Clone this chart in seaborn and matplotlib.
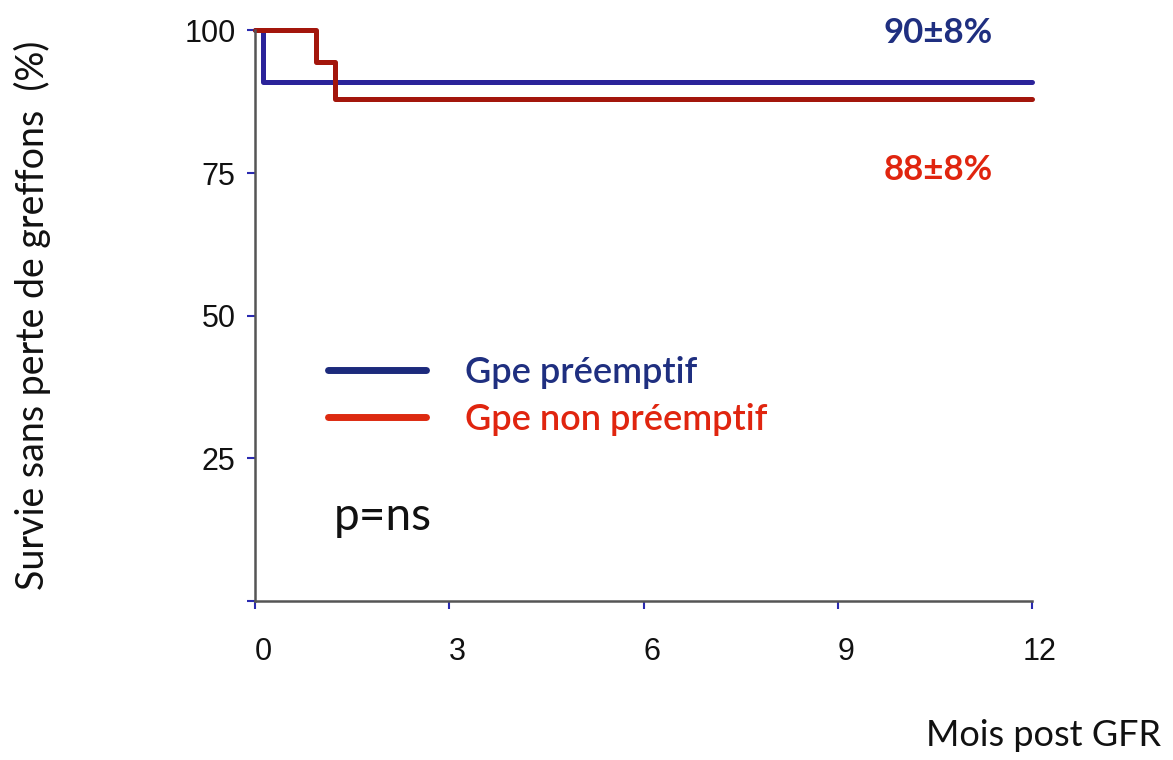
import numpy as np
import pandas as pd
import seaborn as sns
import matplotlib.pyplot as plt
from matplotlib.lines import Line2D
from matplotlib.transforms import ScaledTranslation

# survival steps (months, %)
groups = ["Gpe préemptif", "Gpe non préemptif"]
time_pre = [0, 0.12, 12]
surv_pre = [100, 91, 91]
time_non = [0, 0.94, 1.24, 12]
surv_non = [100, 94.5, 88, 88]
end_labels = ["90±8%", "88±8%"]
x_ticks = [0, 3, 6, 9, 12]
y_ticks = [0, 25, 50, 75, 100]
y_ticklabels = ["", "25", "50", "75", "100"]

df = pd.DataFrame({
    "Mois": time_pre + time_non,
    "Survie": surv_pre + surv_non,
    "Groupe": [groups[0]] * len(time_pre) + [groups[1]] * len(time_non),
})

sns.set_theme(style="white")
plt.rcParams['font.family'] = ['Lato', 'DejaVu Sans']

line_colors = ["#2b239a", "#a3160c"]
text_colors = ["#1f2f80", "#e0250f"]

fig = plt.figure(figsize=(11.73, 7.6), dpi=100)
ax = fig.add_axes([0.2174, 0.2092, 0.6624, 0.7508])

sns.lineplot(data=df, x="Mois", y="Survie", hue="Groupe", palette=line_colors,
             drawstyle="steps-post", linewidth=3.6, legend=False, ax=ax,
             estimator=None, sort=False)
for l in ax.lines:
    l.set_clip_on(False)

ax.set_xlim(0, 12)
ax.set_ylim(0, 100)
ax.set_xticks(x_ticks)
ax.set_yticks(y_ticks)
ax.set_yticklabels(y_ticklabels)
ax.set_xlabel("")
ax.set_ylabel("")
sns.despine(ax=ax)
for s in ["left", "bottom"]:
    ax.spines[s].set_color("#555555")
    ax.spines[s].set_linewidth(1.8)

ax.tick_params(axis="both", direction="out", length=6, width=1.5, color="#2a2ab0",
               labelsize=22, labelcolor="#111111", bottom=True, left=True)
ax.tick_params(axis="x", pad=20)
ax.tick_params(axis="y", pad=8)
for lab in ax.get_xticklabels() + ax.get_yticklabels():
    lab.set_family(["Liberation Sans"])
for lab in ax.get_xticklabels():
    lab.set_transform(lab.get_transform() + ScaledTranslation(0.08, 0, fig.dpi_scale_trans))

# end-of-curve estimates
ax.text(12 - 0.6, 99.5, end_labels[0], color=text_colors[0], fontsize=25,
        fontweight="bold", ha="right", va="center")
ax.text(12 - 0.6, 75.5, end_labels[1], color=text_colors[1], fontsize=25,
        fontweight="bold", ha="right", va="center")

handles = [Line2D([], [], color=c, lw=5) for c in ["#1c2a7c", "#dd2a10"]]
leg = ax.legend(handles, groups, loc="upper left", bbox_to_anchor=(0.094, 0.43),
                frameon=False, fontsize=26, handlelength=2.7, handletextpad=1.1,
                labelspacing=0.4, borderpad=0, borderaxespad=0,
                labelcolor=text_colors)
for t in leg.get_texts():
    t.set_fontweight("semibold")

ax.text(0.101, 0.148, "p=ns", transform=ax.transAxes, fontsize=33,
        color="#111111", ha="left", va="center")

fig.text(0.012, 0.585, "Survie sans perte de greffons  (%)", rotation=90,
         fontsize=27, ha="left", va="center", color="#111111")
fig.text(0.99, 0.01, "Mois post GFR", fontsize=26, ha="right", va="bottom",
         color="#111111")

fig.savefig("out.png", dpi=100)
